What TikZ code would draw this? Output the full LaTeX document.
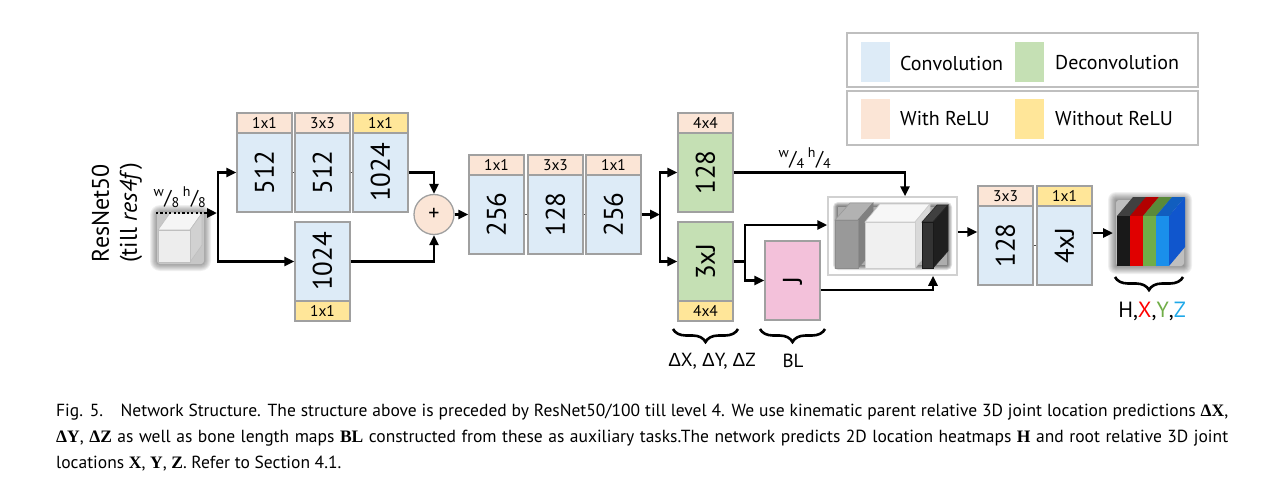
\documentclass[tikz,border=0pt]{standalone}
\usepackage{fontspec}
\usepackage{graphicx}
\setmainfont{PT Sans}
\newfontfamily\lsans{Liberation Sans}
\newfontfamily\capserif{Liberation Serif}
\usetikzlibrary{arrows.meta,decorations.pathreplacing}
\definecolor{convblue}{HTML}{DDEBF7}
\definecolor{deconv}{HTML}{C5E0B4}
\definecolor{relu}{HTML}{FBE5D6}
\definecolor{norelu}{HTML}{FFE699}
\definecolor{jpink}{HTML}{F3C1DA}
\definecolor{boxgray}{HTML}{A0A0A0}
\definecolor{ygreen}{HTML}{70AD47}
\definecolor{zcyan}{HTML}{1FA8E8}
\begin{document}
\begin{tikzpicture}[x=1pt,y=-1pt,
 lay/.style={draw=boxgray, line width=1.3pt, inner sep=0pt, minimum width=55pt, minimum height=79pt, font=\fontsize{27}{27}\selectfont},
 conv/.style={lay, fill=convblue},
 dconv/.style={lay, fill=deconv},
 jbox/.style={lay, fill=jpink},
 hdr/.style={draw=boxgray, line width=1.3pt, inner sep=0pt, minimum width=55pt, minimum height=20pt, font=\fontsize{15.5}{15.5}\selectfont},
 hrelu/.style={hdr, fill=relu},
 hnorelu/.style={hdr, fill=norelu},
 arr/.style={line width=2.5pt, -{Triangle[length=10pt,width=9pt]}},
 conn/.style={line width=2.5pt},
 link/.style={line width=1.2pt, draw=black!70},
 brc/.style={decorate, decoration={brace, amplitude=13pt}, line width=2.6pt},
 glow/.style={fill=black, opacity=0.06},
 legbox/.style={draw=black!25, line width=1.5pt, minimum width=351pt, minimum height=54pt, inner sep=0pt},
 swatch/.style={minimum width=29pt, minimum height=40pt, inner sep=0pt},
 legtext/.style={anchor=west, inner sep=0pt, font=\fontsize{20}{20}\selectfont},
 captext/.style={anchor=base west, inner sep=0pt, font=\fontsize{17.5}{20}\selectfont},
]
\useasboundingbox (0,0) rectangle (1275,490);

% ---------- legend ----------
\node[legbox] (leg1) at (1022.5,60) {};
\node[legbox] (leg2) at (1022.5,118) {};
\node[swatch, fill=convblue] (sw1) at (875.5,62) {};
\node[swatch, fill=deconv] (sw2) at (1029.5,62) {};
\node[swatch, fill=relu] (sw3) at (875.5,119) {};
\node[swatch, fill=norelu] (sw4) at (1029.5,119) {};
\node[legtext] (lt1) at (900,63) {Convolution};
\node[legtext] (lt2) at (1055,63) {Deconvolution};
\node[legtext] (lt3) at (900,119) {With ReLU};
\node[legtext] (lt4) at (1055,119) {Without ReLU};

% ---------- input ----------
\node[rotate=90, align=center, font=\fontsize{24}{28}\selectfont] (resnet) at (117,213) {ResNet50\\(till \textit{res4f})};
\foreach \i in {0,...,10} {\fill[glow, rounded corners=\i pt] (160-\i,215-\i) rectangle (201+\i,261+\i);}
\fill[black!22, rounded corners=3pt] (157,212) rectangle (204,264);
\fill[black!4, draw=black!25, line width=0.6pt] (158,230) -- (170,213) -- (202,213) -- (190,230) -- cycle;
\fill[black!18, draw=black!25, line width=0.6pt] (190,230) -- (202,213) -- (202,245) -- (190,262) -- cycle;
\fill[black!7, draw=black!25, line width=0.6pt] (158,230) rectangle (190,262);
\node[font=\fontsize{20}{20}\selectfont] (w8) at (180,197) {\textsuperscript{w}/\textsubscript{8}\,\textsuperscript{h}/\textsubscript{8}};

% ---------- first block ----------
\node[conv] (t1) at (264.5,172.5) {\rotatebox{90}{512}};
\node[conv] (t2) at (322.5,172.5) {\rotatebox{90}{512}};
\node[conv] (t3) at (380.5,172.5) {\rotatebox{90}{1024}};
\node[hrelu] (t1h) at (264.5,123) {1x1};
\node[hrelu] (t2h) at (322.5,123) {3x3};
\node[hnorelu] (t3h) at (380.5,123) {1x1};
\node[conv] (b1) at (322.5,261.5) {\rotatebox{90}{1024}};
\node[hnorelu] (b1f) at (322.5,311) {1x1};
\node[circle, draw=boxgray, fill=relu, line width=1.3pt, minimum size=40pt, inner sep=0pt, font=\fontsize{22}{22}\selectfont] (plus) at (434,214.5) {+};
\draw[link] (t1.east) -- (t2.west);
\draw[link] (t2.east) -- (t3.west);

\coordinate (in) at (156,213);
\coordinate (j1) at (218,213);
\draw[line width=2.6pt, dash pattern=on 2.2pt off 2.2pt, -{Triangle[length=10pt,width=9pt]}] (in) -- ([xshift=-1pt]j1);
\draw[arr] (j1) |- (t1.west);
\draw[arr] (j1) |- (b1.west);
\draw[arr] (t3.east) -| (plus.north);
\draw[arr] (b1.east) -| (plus.south);

% ---------- second block ----------
\node[conv] (m1) at (496.5,214.5) {\rotatebox{90}{256}};
\node[conv] (m2) at (555.5,214.5) {\rotatebox{90}{128}};
\node[conv] (m3) at (613.5,214.5) {\rotatebox{90}{256}};
\node[hrelu] (m1h) at (496.5,165) {1x1};
\node[hrelu] (m2h) at (555.5,165) {3x3};
\node[hrelu] (m3h) at (613.5,165) {1x1};
\draw[link] (m1.east) -- (m2.west);
\draw[link] (m2.east) -- (m3.west);
\draw[arr] (plus.east) -- (m1.west);

% ---------- deconvolutions ----------
\node[dconv] (g1) at (705.5,172.5) {\rotatebox{90}{128}};
\node[hrelu] (g1h) at (705.5,123) {4x4};
\node[dconv] (g2) at (705.5,261.5) {\rotatebox{90}{3xJ}};
\node[hnorelu] (g2f) at (705.5,311) {4x4};
\coordinate (j2) at (660,214.5);
\draw[arr] (m3.east) -- (j2);
\draw[arr] (j2) |- (g1.west);
\draw[arr] (j2) |- (g2.west);

\node[jbox] (pink) at (792.5,280.5) {\rotatebox{90}{J}};

% ---------- concatenation ----------
\node[draw=black!18, line width=1.5pt, fill=white, minimum width=129pt, minimum height=78pt, inner sep=0pt] (cat) at (892.5,236) {};
\foreach \i in {0,...,5} {\fill[glow, opacity=0.12, rounded corners=\i pt] (838-\i,207-\i) rectangle (947+\i,265+\i);}
\fill[black!32] (838,207) rectangle (947,265);
% grey slab
\fill[black!30, draw=black!40, line width=0.6pt] (835,220) -- (850,203) -- (873,203) -- (858,220) -- cycle;
\fill[black!50, draw=black!50, line width=0.6pt] (858,220) -- (873,203) -- (873,251) -- (858,268) -- cycle;
\fill[black!40, draw=black!45, line width=0.6pt] (835,220) rectangle (858,268);
% white cube
\fill[black!3, draw=black!20, line width=0.6pt] (865,222) -- (880,204) -- (930,204) -- (915,222) -- cycle;
\fill[black!15, draw=black!20, line width=0.6pt] (915,222) -- (930,204) -- (930,250) -- (915,268) -- cycle;
\fill[black!6, draw=black!20, line width=0.6pt] (865,222) rectangle (915,268);
% black slab
\fill[black!75, draw=black!85, line width=0.6pt] (922,222) -- (937,205) -- (948,205) -- (933,222) -- cycle;
\fill[black!88, draw=black!85, line width=0.6pt] (933,222) -- (948,205) -- (948,251) -- (933,268) -- cycle;
\fill[black!80, draw=black!90, line width=0.6pt] (922,222) rectangle (933,268);

\node[font=\fontsize{20}{20}\selectfont] (w4) at (805,158) {\textsuperscript{w}/\textsubscript{4}\,\textsuperscript{h}/\textsubscript{4}};
\draw[arr] (g1.east) -| ([xshift=12.5pt]cat.north);
\coordinate (j3) at (745,261.5);
\draw[conn] (g2.east) -- (j3);
\draw[arr] (j3) |- ([yshift=11pt]cat.west);
\draw[arr] (j3) |- (pink.west);
\draw[arr] ([yshift=-9.5pt]pink.east) -| ([xshift=40.5pt]cat.south);

% ---------- final block ----------
\node[conv] (f1) at (1005.5,245.5) {\rotatebox{90}{128}};
\node[conv] (f2) at (1064.5,245.5) {\rotatebox{90}{4xJ}};
\node[hrelu] (f1h) at (1005.5,196) {3x3};
\node[hnorelu] (f2h) at (1064.5,196) {1x1};
\draw[link] (f1.east) -- (f2.west);
\draw[arr] ([yshift=4pt]cat.east) coordinate (c1) -- (c1 -| f1.west);

% ---------- output stack ----------
\foreach \i in {0,...,8} {\fill[glow, rounded corners=\i pt] (1116-\i,200-\i) rectangle (1184+\i,266+\i);}
\fill[black!25, rounded corners=3pt] (1116,200) rectangle (1184,266);
\foreach \x/\cf/\ct/\cs in {1117/black!90/black!75/black!85, 1130/red!88!black/red!70!black/red!78!black, 1143/ygreen/ygreen!80!black/ygreen!88!black, 1156/zcyan!85!blue/zcyan!70!blue!80!black/zcyan!60!blue!85!black} {
  \fill[\ct] (\x,216) -- (\x+16,197) -- (\x+29,197) -- (\x+13,216) -- cycle;
  \fill[\cs] (\x+13,216) -- (\x+29,197) -- (\x+29,247) -- (\x+13,266) -- cycle;
  \fill[\cf] (\x,216) rectangle (\x+13,266);
}
\coordinate (stk) at (1113,233);
\draw[arr] ([yshift=12.5pt]f2.east) -- (stk);

% ---------- braces and labels ----------
\draw[brc] (738,329) -- (673,329);
\draw[brc] (825,329) -- (760,329);
\draw[brc] (1183,277) -- (1115,277);
\node[font=\fontsize{19}{19}\selectfont] (dxyz) at (712,361) {{\lsans Δ}X, {\lsans Δ}Y, {\lsans Δ}Z};
\node[font=\fontsize{19}{19}\selectfont] (bl) at (793,361) {BL};
\node[font=\fontsize{22}{22}\selectfont] (hxyz) at (1152,311) {H,\textcolor{red}{X},\textcolor{ygreen}{Y},\textcolor{zcyan}{Z}};

% ---------- caption ----------
\node[captext] (cap1) at (56,416) {\makebox[1172pt][s]{Fig. 5.\quad Network Structure. The structure above is preceded by ResNet50/100 till level 4. We use kinematic parent relative 3D joint location predictions {\capserif\bfseries ΔX},}};
\node[captext] (cap2) at (56,442) {\makebox[1172pt][s]{{\capserif\bfseries ΔY}, {\capserif\bfseries ΔZ} as well as bone length maps {\capserif\bfseries BL} constructed from these as auxiliary tasks.The network predicts 2D location heatmaps {\capserif\bfseries H} and root relative 3D joint}};
\node[captext] (cap3) at (56,468) {locations {\capserif\bfseries X}, {\capserif\bfseries Y}, {\capserif\bfseries Z}. Refer to Section 4.1.};
\end{tikzpicture}
\end{document}
